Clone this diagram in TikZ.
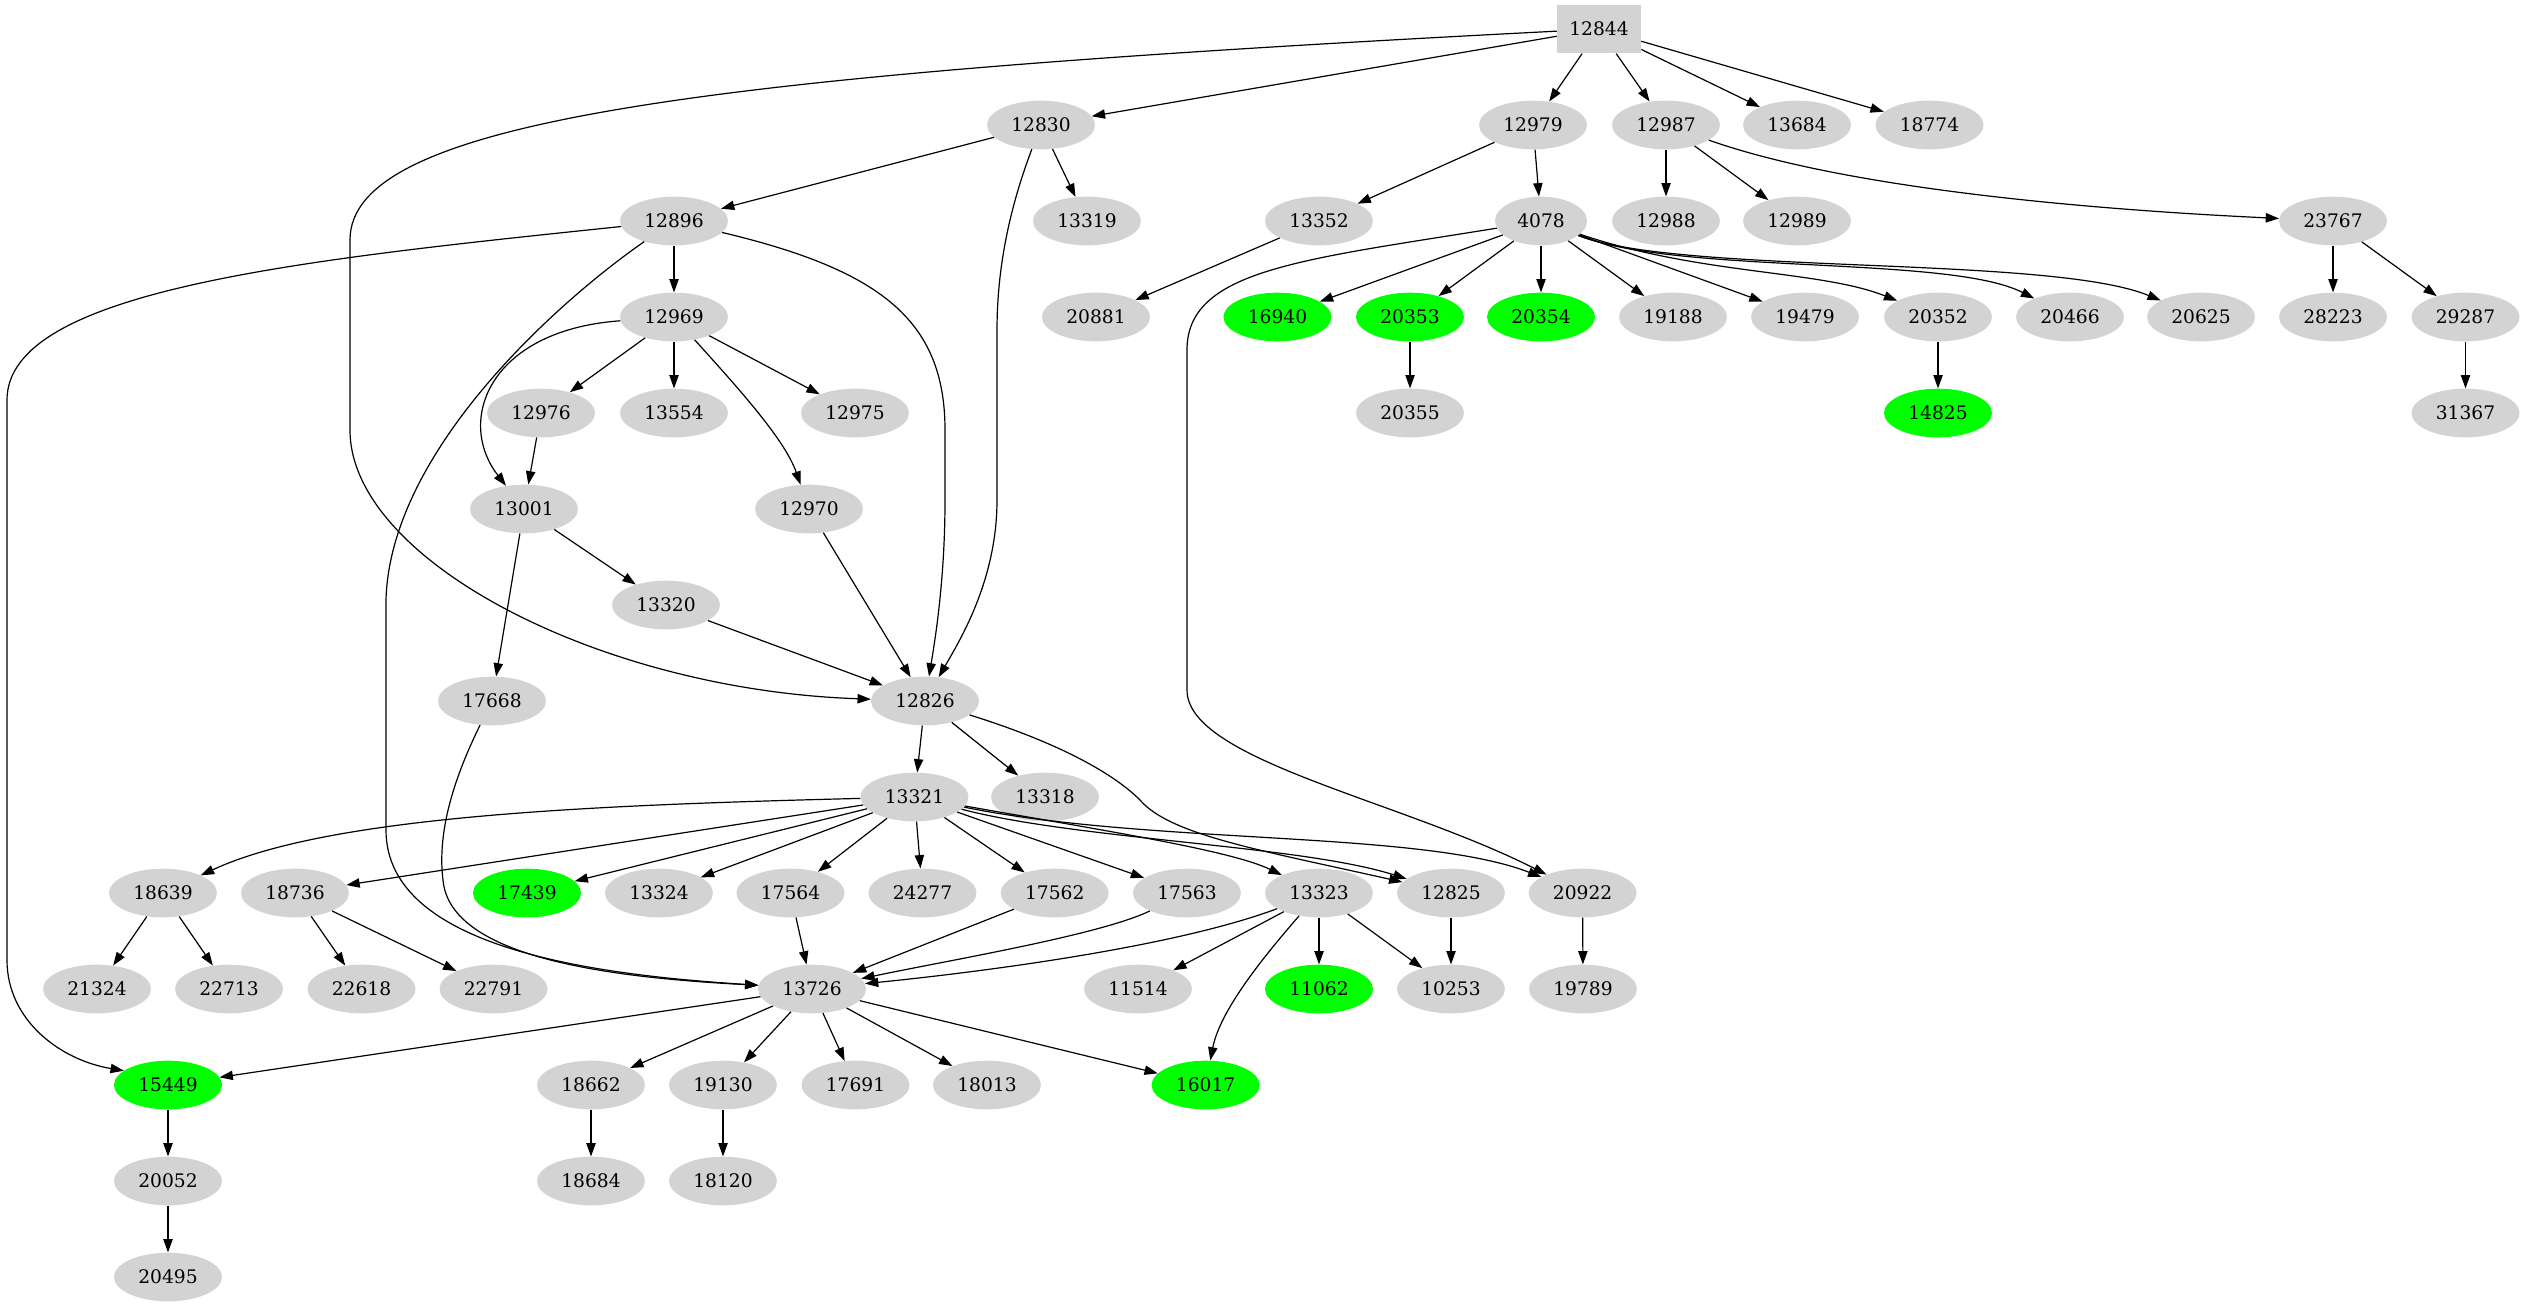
\documentclass[tikz,border=0pt]{standalone}
\usepackage{fontspec}
\setmainfont{DejaVu Serif}
\usetikzlibrary{arrows.meta,shapes.geometric}
\definecolor{ndgray}{HTML}{D3D3D3}
\definecolor{ndgreen}{HTML}{00FF00}
\begin{document}
\begin{tikzpicture}[x=0.75pt,y=-0.75pt,
  nd/.style={ellipse,fill=ndgray,minimum width=81pt,minimum height=36.5pt,inner sep=0pt,font=\fontsize{14}{16}\selectfont},
  gn/.style={nd,fill=ndgreen},
  bx/.style={rectangle,fill=ndgray,minimum width=63pt,minimum height=36.5pt,inner sep=0pt,font=\fontsize{14}{16}\selectfont},
  conn/.style={line width=0.9pt,-{Triangle[length=10pt,width=7pt]}}]
\fill[white] (0,0) rectangle (2525,1307);
\useasboundingbox (0,0) rectangle (2525,1307);
% rank 0
\node[bx] (n12844) at (1599,29) {12844};
% rank 1
\node[nd] (n12830) at (1041,125) {12830};
\node[nd] (n12979) at (1533,125) {12979};
\node[nd] (n12987) at (1666,125) {12987};
\node[nd] (n13684) at (1797,125) {13684};
\node[nd] (n18774) at (1929.5,125) {18774};
% rank 2
\node[nd] (n12896) at (674,221) {12896};
\node[nd] (n13319) at (1087,221) {13319};
\node[nd] (n13352) at (1319,221) {13352};
\node[nd,minimum width=69pt] (n4078) at (1541,221) {4078};
\node[nd] (n12988) at (1666,221) {12988};
\node[nd] (n12989) at (1797,221) {12989};
\node[nd] (n23767) at (2333,221) {23767};
% rank 3
\node[nd] (n12969) at (674,317) {12969};
\node[nd] (n20881) at (1096,317) {20881};
\node[gn] (n16940) at (1277.5,317) {16940};
\node[gn] (n20353) at (1410,317) {20353};
\node[gn] (n20354) at (1541,317) {20354};
\node[nd] (n19188) at (1673,317) {19188};
\node[nd] (n19479) at (1805,317) {19479};
\node[nd] (n20352) at (1938,317) {20352};
\node[nd] (n20466) at (2070,317) {20466};
\node[nd] (n20625) at (2201,317) {20625};
\node[nd] (n28223) at (2333,317) {28223};
\node[nd] (n29287) at (2465.5,317) {29287};
% rank 4
\node[nd] (n12976) at (541,413) {12976};
\node[nd] (n13554) at (674,413) {13554};
\node[nd] (n12975) at (855,413) {12975};
\node[nd] (n20355) at (1410,413) {20355};
\node[gn] (n14825) at (1938,413) {14825};
\node[nd] (n31367) at (2465.5,413) {31367};
% rank 5
\node[nd] (n13001) at (524,509) {13001};
\node[nd] (n12970) at (809,509) {12970};
% rank 6
\node[nd] (n13320) at (666,605) {13320};
% rank 7
\node[nd] (n17668) at (492,701) {17668};
\node[nd] (n12826) at (925,701) {12826};
% rank 8
\node[nd] (n13321) at (914.5,797) {13321};
\node[nd] (n13318) at (1045,797) {13318};
% rank 9
\node[nd] (n18639) at (163,893) {18639};
\node[nd] (n18736) at (295,893) {18736};
\node[gn] (n17439) at (527,893) {17439};
\node[nd] (n13324) at (659,893) {13324};
\node[nd] (n17564) at (790.5,893) {17564};
\node[nd] (n24277) at (922.5,893) {24277};
\node[nd] (n17562) at (1054.7,893) {17562};
\node[nd] (n17563) at (1187,893) {17563};
\node[nd] (n13323) at (1319,893) {13323};
\node[nd] (n12825) at (1451,893) {12825};
\node[nd] (n20922) at (1582.6,893) {20922};
% rank 10
\node[nd] (n21324) at (97,989) {21324};
\node[nd] (n22713) at (229,989) {22713};
\node[nd] (n22618) at (361.5,989) {22618};
\node[nd] (n22791) at (493.5,989) {22791};
\node[nd] (n13726) at (812,989) {13726};
\node[nd] (n11514) at (1138,989) {11514};
\node[gn] (n11062) at (1319,989) {11062};
\node[nd] (n10253) at (1451,989) {10253};
\node[nd] (n19789) at (1583,989) {19789};
% rank 11
\node[gn] (n15449) at (168,1085) {15449};
\node[nd] (n18662) at (591,1085) {18662};
\node[nd] (n19130) at (723,1085) {19130};
\node[nd] (n17691) at (855.5,1085) {17691};
\node[nd] (n18013) at (987,1085) {18013};
\node[gn] (n16017) at (1205.6,1085) {16017};
% rank 12
\node[nd] (n20052) at (168,1181) {20052};
\node[nd] (n18684) at (591,1181) {18684};
\node[nd] (n18120) at (723,1181) {18120};
% rank 13
\node[nd] (n20495) at (168,1277) {20495};

% straight edges
\foreach \a/\b in {12844/12830,12844/12979,12844/12987,12844/13684,12844/18774,
  12830/12896,12830/13319,12979/13352,12979/4078,12987/12988,12987/12989,
  12896/12969,13352/20881,4078/16940,4078/20353,4078/20354,4078/19188,4078/19479,
  20353/20355,20352/14825,23767/28223,23767/29287,29287/31367,
  12969/12976,12969/13554,12969/12975,12976/13001,13001/13320,13001/17668,
  12970/12826,13320/12826,12826/13321,12826/13318,
  13321/18736,13321/17439,13321/13324,13321/17564,13321/24277,13321/17562,13321/17563,
  18639/21324,18639/22713,18736/22618,18736/22791,17564/13726,17562/13726,
  13323/11514,13323/11062,13323/10253,12825/10253,20922/19789,
  13726/15449,13726/18662,13726/19130,13726/17691,13726/18013,13726/16017,
  15449/20052,20052/20495,18662/18684,19130/18120}
  {\draw[conn] (n\a) -- (n\b);}

% curved edges
\draw[conn] (n12844) .. controls (700,75) and (350,120) .. (350,240) -- (350,430) .. controls (350,560) and (600,690) .. (n12826);
\draw[conn] (n12896) .. controls (300,260) and (7,290) .. (7,400) -- (7,960) .. controls (7,1020) and (60,1060) .. (n15449.162);
\draw[conn] (n12896) .. controls (560,300) and (390,450) .. (386,600) -- (386,830) .. controls (386,950) and (600,975) .. (n13726.176);
\draw[conn] (n17668) .. controls (448,790) and (438,840) .. (443,880) .. controls (450,960) and (620,978) .. (n13726.176);
\draw[conn] (n12969) .. controls (490,330) and (455,420) .. (n13001);
\draw[conn] (n12969) .. controls (740,390) and (785,440) .. (n12970);
\draw[conn] (n12830) .. controls (1005,220) and (997,280) .. (997,330) -- (997,500) .. controls (997,580) and (960,640) .. (n12826);
\draw[conn] (n12896) .. controls (880,270) and (945,320) .. (945,430) -- (945,500) .. controls (945,580) and (935,640) .. (n12826);
\draw[conn] (n4078) .. controls (1300,260) and (1187,270) .. (1187,350) -- (1187,690) .. controls (1187,760) and (1400,800) .. (n20922);
\draw[conn] (n4078) .. controls (1700,275) and (1820,270) .. (n20352);
\draw[conn] (n4078) .. controls (1680,275) and (1950,255) .. (n20466);
\draw[conn] (n4078) .. controls (1680,275) and (2050,255) .. (n20625);
\draw[conn] (n12987) .. controls (1850,190) and (2100,210) .. (n23767);
\draw[conn] (n12826) .. controls (1050,740) and (1110,770) .. (1140,800) .. controls (1170,835) and (1260,850) .. (n12825);
\draw[conn] (n13321) .. controls (1080,840) and (1300,845) .. (n12825);
\draw[conn] (n13321) .. controls (1150,845) and (1420,830) .. (n20922);
\draw[conn] (n13321) .. controls (1100,830) and (1230,850) .. (n13323);
\draw[conn] (n13321) .. controls (600,805) and (330,815) .. (n18639);
\draw[conn] (n17563) .. controls (1100,935) and (950,960) .. (n13726);
\draw[conn] (n13323) .. controls (1180,945) and (1000,970) .. (n13726);
\draw[conn] (n13323) .. controls (1265,955) and (1220,1010) .. (n16017);
\end{tikzpicture}
\end{document}
